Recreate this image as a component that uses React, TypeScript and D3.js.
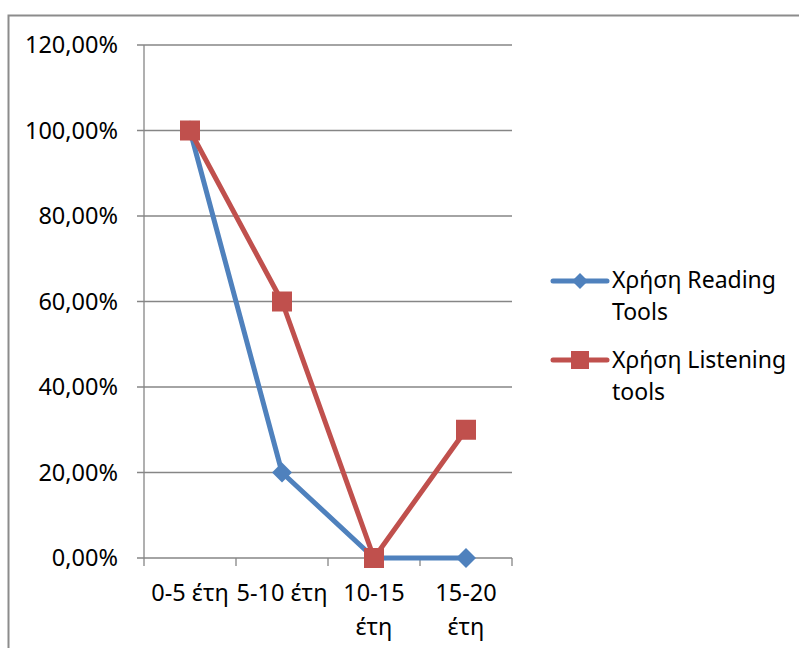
import React from "react";
import * as d3 from "d3";

const categories = ["0-5 έτη", "5-10 έτη", "10-15 έτη", "15-20 έτη"];
const readingValues = [1.0, 0.2, 0.0, 0.0];
const listeningValues = [1.0, 0.6, 0.0, 0.3];
const yTicks = [0, 0.2, 0.4, 0.6, 0.8, 1.0, 1.2];
const seriesNames = ["Χρήση Reading Tools", "Χρήση Listening tools"];

const W = 799;
const H = 648;
const FONT = "'Noto Sans', 'Open Sans', sans-serif";
const GRID = "#868686";
const BLUE = "#4F81BD";
const RED = "#C0504D";

function fmt(v: number) {
  return (v * 100).toFixed(2).replace(".", ",") + "%";
}

function wrapLabel(s: string): string[] {
  if (s.length > 8) {
    const i = s.lastIndexOf(" ");
    return [s.slice(0, i), s.slice(i + 1)];
  }
  return [s];
}

export default function App() {
  const left = 144;
  const right = 512;
  const top = 45;
  const bottom = 558;

  const x = d3.scaleBand<string>().domain(categories).range([left, right]).padding(0);
  const y = d3.scaleLinear().domain([0, 1.2]).range([bottom, top]);
  const cx = (c: string) => (x(c) as number) + x.bandwidth() / 2;

  const line = d3
    .line<number>()
    .x((_, i) => cx(categories[i]))
    .y((d) => y(d));

  const boundaries = [...categories.map((c) => x(c) as number), right];

  const diamond = (px: number, py: number, r: number) =>
    `M${px},${py - r}L${px + r},${py}L${px},${py + r}L${px - r},${py}Z`;

  return (
    <svg
      width={W}
      height={H}
      style={{ position: "absolute", left: 0, top: 0, background: "#fff" }}
      fontFamily={FONT}
    >
      <rect x={0} y={0} width={W} height={H} fill="#fff" />
      {/* outer frame */}
      <path d={`M8.5,${H + 5}V15.5H${W + 5}`} fill="none" stroke="#8c8c8c" strokeWidth={2} />

      {/* gridlines */}
      {yTicks.map((t) => (
        <line key={t} x1={left - 7} x2={right} y1={y(t)} y2={y(t)} stroke={GRID} strokeWidth={1.3} />
      ))}
      {/* y axis */}
      <line x1={left} x2={left} y1={top} y2={bottom} stroke={GRID} strokeWidth={1.3} />
      {/* x tick marks */}
      {boundaries.map((b, i) => (
        <line key={i} x1={b} x2={b} y1={bottom} y2={bottom + 8} stroke={GRID} strokeWidth={1.3} />
      ))}

      {/* y labels */}
      {yTicks.map((t) => (
        <text key={t} x={118} y={y(t)} dy="0.35em" textAnchor="end" fontSize={23.5} fill="#000">
          {fmt(t)}
        </text>
      ))}

      {/* x labels */}
      {categories.map((c) => (
        <text key={c} textAnchor="middle" fontSize={23.5} fill="#000">
          {wrapLabel(c).map((ln, j) => (
            <tspan key={j} x={cx(c)} y={bottom + 43 + j * 34}>
              {ln}
            </tspan>
          ))}
        </text>
      ))}

      {/* series */}
      <path d={line(readingValues) || ""} fill="none" stroke={BLUE} strokeWidth={5} strokeLinejoin="round" />
      {readingValues.map((v, i) => (
        <path key={i} d={diamond(cx(categories[i]), y(v), 10)} fill={BLUE} />
      ))}
      <path d={line(listeningValues) || ""} fill="none" stroke={RED} strokeWidth={5} strokeLinejoin="round" />
      {listeningValues.map((v, i) => (
        <rect key={i} x={cx(categories[i]) - 10} y={y(v) - 10} width={20} height={20} fill={RED} />
      ))}

      {/* legend */}
      <g>
        <line x1={553} x2={607} y1={281} y2={281} stroke={BLUE} strokeWidth={5} strokeLinecap="round" />
        <path d={diamond(580, 281, 8)} fill={BLUE} />
        <text fontSize={23} fill="#000">
          <tspan x={612} y={288}>Χρήση Reading</tspan>
          <tspan x={612} y={320}>Tools</tspan>
        </text>
        <line x1={553} x2={607} y1={360} y2={360} stroke={RED} strokeWidth={5} strokeLinecap="round" />
        <rect x={571} y={351} width={18} height={18} fill={RED} />
        <text fontSize={23} fill="#000">
          <tspan x={612} y={368}>Χρήση Listening</tspan>
          <tspan x={612} y={400}>tools</tspan>
        </text>
      </g>
    </svg>
  );
}

export { seriesNames };
